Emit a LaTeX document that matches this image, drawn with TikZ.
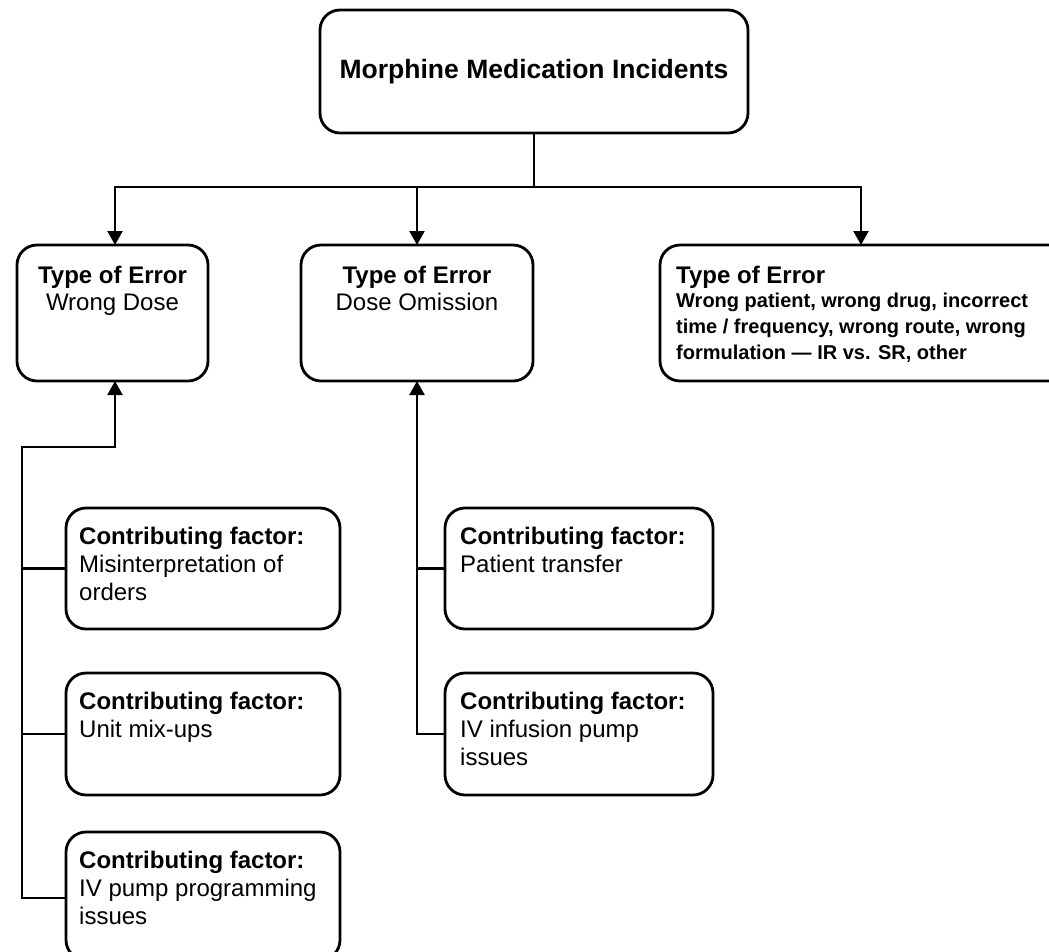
\documentclass[tikz,border=0pt]{standalone}
\usepackage{fontspec}
\setmainfont{Liberation Sans}
\usetikzlibrary{arrows.meta}
\begin{document}
\begin{tikzpicture}[x=1pt,y=-1pt,
  box/.style={draw, line width=2.8pt, rounded corners=20pt, inner sep=0pt, outer sep=0pt},
  conn/.style={line width=2.2pt},
  tip/.style={-{Triangle[width=15pt,length=14pt]}},
  bigtxt/.style={inner sep=0pt, font=\fontsize{24}{27}\selectfont},
  cftxt/.style={inner sep=0pt, anchor=north west, align=left, font=\fontsize{24}{28}\selectfont}]
\fill[white] (0,0) rectangle (1049,951);
\useasboundingbox (0,0) rectangle (1049,951);
\clip (0,0) rectangle (1049,951);

% boxes
\node[box, minimum width=428pt, minimum height=123pt] (top) at (534,71.5) {};
\node[box, minimum width=191pt, minimum height=136pt] (wd) at (112.5,313) {};
\node[box, minimum width=232pt, minimum height=136pt] (do) at (417,313) {};
\node[box, minimum width=440pt, minimum height=136pt] (oth) at (880,313) {};
\node[box, minimum width=274pt, minimum height=121pt] (cf1) at (203,568.5) {};
\node[box, minimum width=274pt, minimum height=122pt] (cf2) at (203,734) {};
\node[box, minimum width=274pt, minimum height=128pt] (cf3) at (203,896) {};
\node[box, minimum width=268pt, minimum height=121pt] (cm1) at (579,568.5) {};
\node[box, minimum width=268pt, minimum height=122pt] (cm2) at (579,734) {};

% texts
\node[inner sep=0pt, font=\bfseries\fontsize{26.5}{30}\selectfont] (tt) at (top.center) {Morphine Medication Incidents};
\node[bigtxt, anchor=north, align=center] (twd) at ([yshift=-21pt]wd.north) {\textbf{Type of Error}\\Wrong Dose};
\node[bigtxt, anchor=north, align=center] (tdo) at ([yshift=-21pt]do.north) {\textbf{Type of Error}\\Dose Omission};
\node[bigtxt, anchor=north west, font=\bfseries\fontsize{24}{27}\selectfont] (toth) at ([xshift=16pt,yshift=-21pt]oth.north west) {Type of Error};
\node[inner sep=0pt, anchor=north west, align=left, font=\bfseries\fontsize{20}{26}\selectfont] (doth) at ([xshift=16pt,yshift=-47.5pt]oth.north west) {Wrong patient, wrong drug, incorrect\\time / frequency, wrong route, wrong\\formulation — IR vs. SR, other};
\node[cftxt] (t1) at ([xshift=13pt,yshift=-18.5pt]cf1.north west) {\textbf{Contributing factor:}\\Misinterpretation of\\orders};
\node[cftxt] (t2) at ([xshift=13pt,yshift=-18.5pt]cf2.north west) {\textbf{Contributing factor:}\\Unit mix-ups};
\node[cftxt] (t3) at ([xshift=13pt,yshift=-18.5pt]cf3.north west) {\textbf{Contributing factor:}\\IV pump programming\\issues};
\node[cftxt] (t4) at ([xshift=15pt,yshift=-18.5pt]cm1.north west) {\textbf{Contributing factor:}\\Patient transfer};
\node[cftxt] (t5) at ([xshift=15pt,yshift=-18.5pt]cm2.north west) {\textbf{Contributing factor:}\\IV infusion pump\\issues};

% connectors
\coordinate (hub) at (534,187);
\coordinate (lstep) at (22,447);
\draw[conn] (top.south) -- (hub);
\draw[conn, tip] (hub) -| ([xshift=2.5pt]wd.north);
\draw[conn, tip] (hub) -| (do.north);
\draw[conn, tip] (hub) -| ([xshift=201pt]oth.north west);
\draw[conn, tip] ([yshift=-2pt]cf3.west) -| (lstep) -| ([xshift=2.5pt]wd.south);
\draw[conn] (cf1.west) -- (cf1.west -| lstep);
\draw[conn] (cf2.west) -- (cf2.west -| lstep);
\draw[conn, tip] (cm2.west) -| (do.south);
\draw[conn] (cm1.west) -- (cm1.west -| do.south);
\end{tikzpicture}
\end{document}
